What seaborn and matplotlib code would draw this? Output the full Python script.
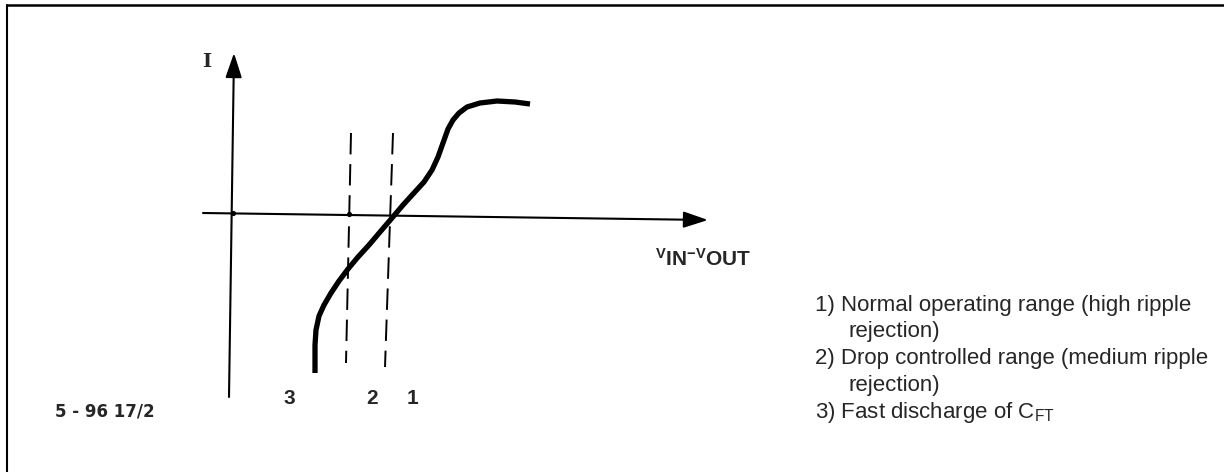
import pandas as pd
import matplotlib.pyplot as plt
from matplotlib.lines import Line2D
import seaborn as sns

# I vs (VIN - VOUT) characteristic (arbitrary units, origin at axis crossing)
curve_v = [1.64, 1.64, 1.66, 1.72, 1.82, 1.96, 2.12, 2.30, 2.50, 2.72, 2.94, 3.18,
           3.40, 3.60, 3.82, 3.98, 4.10, 4.20, 4.30, 4.40, 4.52, 4.68, 4.94, 5.28, 5.64, 5.94]
curve_i = [-3.20, -2.64, -2.34, -2.06, -1.84, -1.60, -1.36, -1.12, -0.88, -0.64, -0.38, -0.10,
           0.16, 0.38, 0.62, 0.86, 1.12, 1.40, 1.68, 1.86, 2.00, 2.12, 2.20, 2.24, 2.22, 2.18]

# dashed range boundaries (scanned lines are slightly slanted)
bound2_v = [2.36, 2.26]
bound2_i = [1.60, -3.00]
bound1_v = [3.20, 3.04]
bound1_i = [1.60, -3.08]

# axes of the sketch: start and arrow tip
yaxis_v = [-0.08, 0.02]
yaxis_i = [-3.68, 3.20]
xaxis_v = [-0.60, 9.50]
xaxis_i = [0.00, -0.14]

tick_v = [0.0, 2.32]
tick_i = [0.0, -0.02]

region_labels = ['3', '2', '1']
region_label_v = [1.12, 2.78, 3.58]

note_lines = ['1) Normal operating range (high ripple',
              'rejection)',
              '2) Drop controlled range (medium ripple',
              'rejection)',
              r'3) Fast discharge of C$_{\mathregular{FT}}$']
note_indent = [False, True, False, True, False]

sns.set_style('white')
plt.rcParams['font.family'] = ['Liberation Sans', 'DejaVu Sans']

fig = plt.figure(figsize=(12.24, 4.72), dpi=100)
ax = fig.add_axes([0, 0, 1, 1])
ax.set_xlim(-4.66, 19.82)
ax.set_ylim(-5.18, 4.26)
ax.axis('off')

# frame of the scanned figure (only top and left edges are visible)
fig.add_artist(Line2D([7 / 1224, 7 / 1224], [0, 1 - 4.5 / 472], transform=fig.transFigure,
                      color='black', lw=1.5))
fig.add_artist(Line2D([7 / 1224, 1], [1 - 4.5 / 472, 1 - 4.5 / 472], transform=fig.transFigure,
                      color='black', lw=1.8))

arrow = dict(arrowstyle='-|>,head_length=0.75,head_width=0.25', color='black', lw=1.5,
             shrinkA=0, shrinkB=0, mutation_scale=20)
ax.annotate('', xy=(yaxis_v[1], yaxis_i[1]), xytext=(yaxis_v[0], yaxis_i[0]), arrowprops=arrow)
ax.annotate('', xy=(xaxis_v[1], xaxis_i[1]), xytext=(xaxis_v[0], xaxis_i[0]), arrowprops=arrow)

sns.scatterplot(x=tick_v, y=tick_i, color='black', s=14, linewidth=0, ax=ax)

sns.lineplot(x=bound2_v, y=bound2_i, sort=False, estimator=None, color='black', lw=1.4,
             linestyle=(0, (11, 5)), ax=ax)
sns.lineplot(x=bound1_v, y=bound1_i, sort=False, estimator=None, color='black', lw=1.4,
             linestyle=(0, (11, 5)), ax=ax)

curve = pd.DataFrame({'v': curve_v, 'i': curve_i})
sns.lineplot(data=curve, x='v', y='i', sort=False, estimator=None, color='black', lw=3.8,
             solid_capstyle='butt', solid_joinstyle='round', ax=ax)

ax.text(-0.52, 3.02, 'I', family='DejaVu Serif', fontweight='bold', fontsize=14,
        ha='center', va='center')
ax.text(8.44, -0.92, r'$\mathregular{^{V}IN^{-V}OUT}$', fontsize=15,
        fontweight='bold', ha='left', va='center')

for lab, v in zip(region_labels, region_label_v):
    ax.text(v, -3.70, lab, fontweight='bold', fontsize=15, ha='center', va='center')

ax.text(-3.56, -3.98, '5 - 96 17/2', family='DejaVu Sans', fontweight='bold', fontsize=12,
        ha='left', va='center')

for k, (line, ind) in enumerate(zip(note_lines, note_indent)):
    ax.text(12.30 if ind else 11.64, -1.84 - 0.535 * k, line, fontsize=16,
            ha='left', va='center')

plt.savefig('out.png', dpi=100)
